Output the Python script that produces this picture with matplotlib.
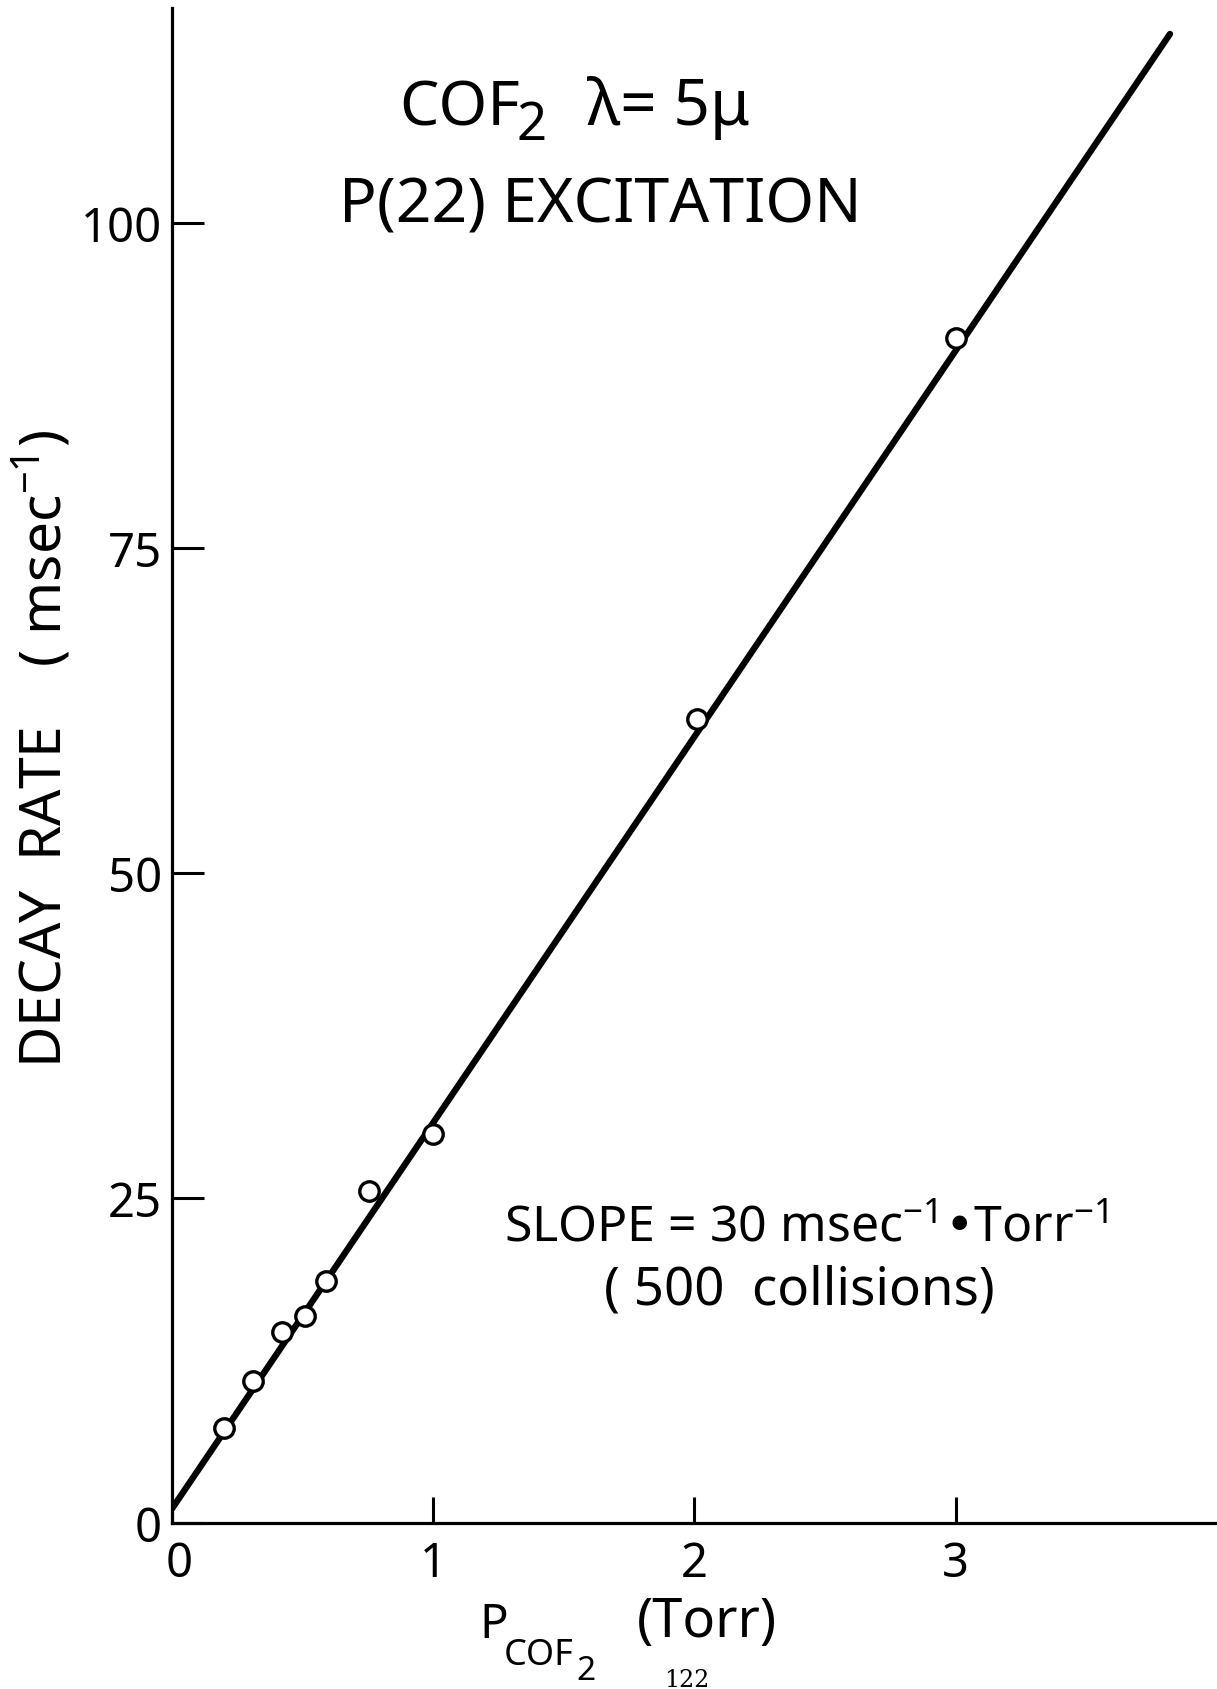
import numpy as np
import matplotlib
matplotlib.use('Agg')
import matplotlib.pyplot as plt
import matplotlib.transforms as mtransforms

plt.rcParams['font.family'] = ['Noto Sans', 'DejaVu Sans']
plt.rcParams['mathtext.default'] = 'regular'

# pressure of COF2 (Torr) and measured decay rate (msec^-1)
pressure = [0.20, 0.31, 0.42, 0.51, 0.59, 0.755, 1.00, 2.01, 3.00]
decay_rate = [7.3, 10.9, 14.7, 15.9, 18.6, 25.5, 29.9, 61.8, 91.1]

# straight line drawn through the points
fit_x = [0.0, 3.82]
fit_y = [1.1, 114.5]

x_ticks = [0, 1, 2, 3]
y_ticks = [0, 25, 50, 75, 100]

fig = plt.figure(figsize=(12.17, 16.90), dpi=100)
ax = fig.add_axes([0.1413, 0.0982, 0.8587, 0.8965])

ax.plot(fit_x, fit_y, color='black', lw=4.6, solid_capstyle='round', zorder=2)
ax.plot(pressure, decay_rate, 'o', ms=14, mfc='white', mec='black', mew=2.4, zorder=3)

ax.set_xlim(0, 4.0)
ax.set_ylim(0, 116.5)
ax.set_xticks(x_ticks)
ax.set_yticks(y_ticks)
ax.set_xticklabels([str(t) for t in x_ticks])
ax.set_yticklabels([str(t) for t in y_ticks])

for s in ['top', 'right']:
    ax.spines[s].set_visible(False)
for s in ['left', 'bottom']:
    ax.spines[s].set_linewidth(2.3)

ax.tick_params(axis='y', direction='in', length=23, width=2.2, pad=7, labelsize=34)
ax.tick_params(axis='x', direction='in', length=19, width=2.2, pad=12, labelsize=34)

# the "0" under the origin sits a bit to the right
lab0 = ax.get_xticklabels()[0]
lab0.set_transform(lab0.get_transform() + mtransforms.ScaledTranslation(5 / 72, 0, fig.dpi_scale_trans))

# y label
fig.text(0.036, 0.557, 'DECAY  RATE    ( msec$^{-1}$)', fontsize=41, rotation=90,
         ha='center', va='center')

# x label built from pieces: P, lowered COF, lower 2, (Torr)
fig.text(0.394, 0.0308, 'P', fontsize=34, ha='left', va='baseline')
fig.text(0.414, 0.0148, 'COF', fontsize=26, ha='left', va='baseline')
fig.text(0.474, 0.0059, '2', fontsize=24, ha='left', va='baseline')
fig.text(0.523, 0.0314, '(Torr)', fontsize=39, ha='left', va='baseline')

# title
fig.text(0.328, 0.926, 'COF', fontsize=45, ha='left', va='baseline')
fig.text(0.424, 0.917, '2', fontsize=38, ha='left', va='baseline')
fig.text(0.482, 0.926, 'λ= 5μ', fontsize=46, ha='left', va='baseline')
fig.text(0.493, 0.8686, 'P(22) EXCITATION', fontsize=45, ha='center', va='baseline')

fig.text(0.414, 0.273, 'SLOPE = 30 msec$^{-1}$•Torr$^{-1}$', fontsize=36, ha='left', va='center')
fig.text(0.657, 0.236, '( 500  collisions)', fontsize=38, ha='center', va='center')

fig.text(0.564, 0.0015, '122', fontsize=17, family='DejaVu Serif', ha='center', va='baseline')

fig.savefig('out.png', dpi=100)
